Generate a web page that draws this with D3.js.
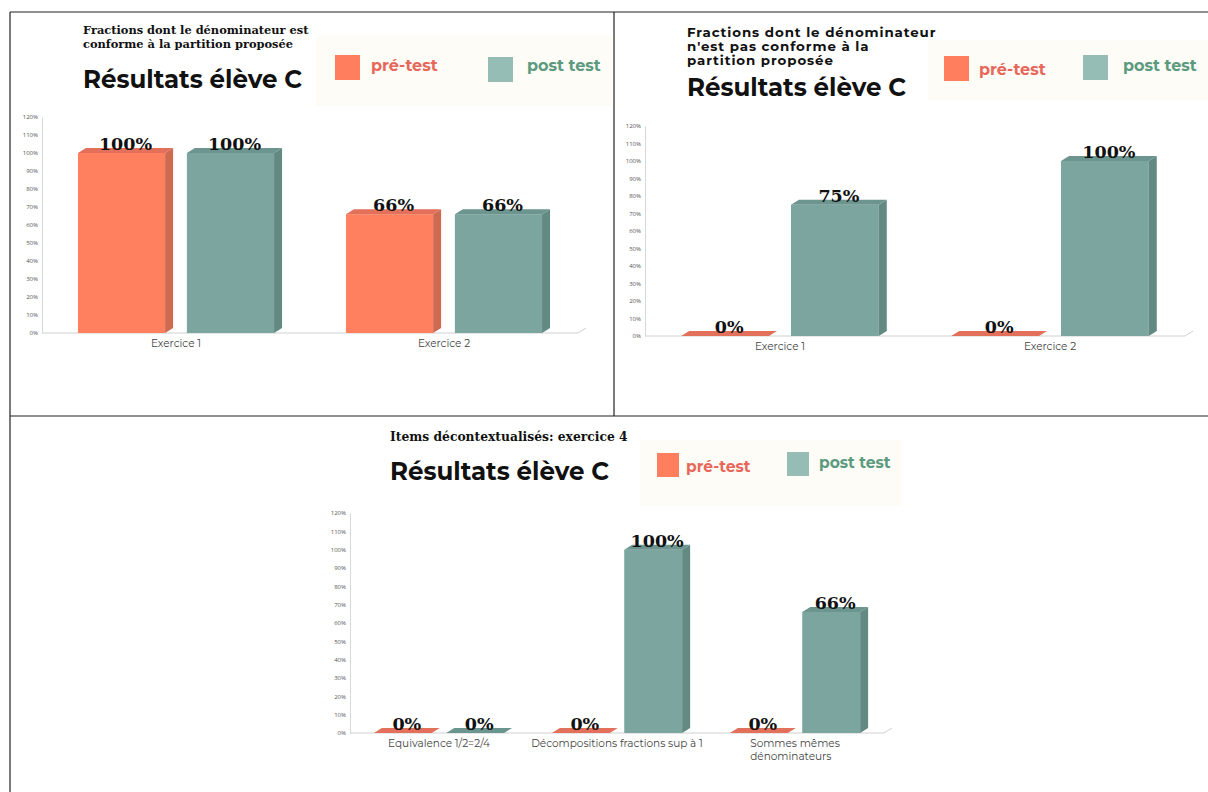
<!DOCTYPE html>
<html>
<head>
<meta charset="utf-8">
<script src="https://cdn.jsdelivr.net/npm/d3@7"></script>
<style>
body { margin: 0; background: #fff; }
svg { display: block; }
</style>
</head>
<body>
<svg id="page" width="1208" height="792"></svg>
<script>
var seriesNames = ["pré-test", "post test"];
var yTicks = [0, 10, 20, 30, 40, 50, 60, 70, 80, 90, 100, 110, 120];

var cats1 = ["Exercice 1", "Exercice 2"];
var pre1 = [100, 66];
var post1 = [100, 66];

var cats2 = ["Exercice 1", "Exercice 2"];
var pre2 = [0, 0];
var post2 = [75, 100];

var cats3 = ["Equivalence 1/2=2/4", "Décompositions fractions sup à 1", "Sommes mêmes\ndénominateurs"];
var pre3 = [0, 0, 0];
var post3 = [0, 100, 66];

var title = "Résultats élève C";
var sub1 = ["Fractions dont le dénominateur est", "conforme à la partition proposée"];
var sub2 = ["Fractions dont le dénominateur", "n'est pas conforme à la", "partition proposée"];
var sub3 = ["Items décontextualisés: exercice 4"];

var frontCol = ["#ff805f", "#7ba59e"];
var topCol = ["#e2705a", "#6b958e"];
var sideCol = ["#cf6a52", "#628a83"];
var legendSq = ["#ff7e5d", "#95bdb6"];
var legendTxt = ["#e8675b", "#5b9a7e"];

var sansFont = "Montserrat, 'Open Sans', sans-serif";
var serifFont = "'DejaVu Serif', serif";

var svg = d3.select("#page");
var dx = 8, dy = 5;

// table frame
var frame = [[10, 12, 1208, 12], [10, 12, 10, 792], [614, 12, 614, 416], [10, 416, 1208, 416]];
svg.selectAll("line.frame").data(frame).enter().append("line")
  .attr("class", "frame")
  .attr("x1", function(d){ return d[0]; })
  .attr("y1", function(d){ return d[1]; })
  .attr("x2", function(d){ return d[2]; })
  .attr("y2", function(d){ return d[3]; })
  .attr("stroke", "#222")
  .attr("stroke-width", 1.2);

function drawHeader(p){
  var g = svg.append("g");
  g.selectAll("text.sub").data(p.sub).enter().append("text")
    .attr("class", "sub")
    .attr("x", p.tx)
    .attr("y", function(d, i){ return p.subY + i * p.subStep; })
    .style("font-family", p.subFont)
    .style("font-weight", 700)
    .style("font-size", p.subSize + "px")
    .style("letter-spacing", p.subSpacing + "px")
    .attr("fill", "#111")
    .text(function(d){ return d; });

  g.append("text")
    .attr("x", p.tx)
    .attr("y", p.titleY)
    .style("font-family", sansFont)
    .style("font-weight", 700)
    .style("font-size", "24.5px")
    .attr("fill", "#111")
    .text(title);

  g.append("rect")
    .attr("x", p.bg[0]).attr("y", p.bg[1])
    .attr("width", p.bg[2]).attr("height", p.bg[3])
    .attr("fill", "#fdfcf6");

  var items = g.selectAll("g.leg").data(seriesNames).enter().append("g").attr("class", "leg");
  items.append("rect")
    .attr("x", function(d, i){ return p.sq[i][0]; })
    .attr("y", function(d, i){ return p.sq[i][1]; })
    .attr("width", p.sqW)
    .attr("height", p.sqH)
    .attr("fill", function(d, i){ return legendSq[i]; });
  items.append("text")
    .attr("x", function(d, i){ return p.lt[i][0]; })
    .attr("y", function(d, i){ return p.lt[i][1]; })
    .style("font-family", sansFont)
    .style("font-weight", 700)
    .style("font-size", p.legSize + "px")
    .attr("fill", function(d, i){ return legendTxt[i]; })
    .text(function(d){ return d; });
}

function drawChart(c){
  var g = svg.append("g");
  var y = d3.scaleLinear().domain([0, 120]).range([c.y0, c.yTop]);
  var x = d3.scaleBand().domain(c.cats).range([c.x0, c.x1]);
  var xs = d3.scaleBand().domain(seriesNames).range([0, x.bandwidth()])
    .paddingInner(0.2).paddingOuter(0.33);

  var yAxis = d3.axisLeft(y)
    .tickValues(yTicks)
    .tickSize(0)
    .tickPadding(4)
    .tickFormat(function(d){ return d + "%"; });

  var gy = g.append("g")
    .attr("transform", "translate(" + c.x0 + ",0)")
    .call(yAxis);
  gy.select(".domain").attr("stroke", "#d8d8d8");
  gy.selectAll("text")
    .style("font-family", "'Open Sans', sans-serif")
    .style("font-size", "6px")
    .attr("fill", "#555");

  // floor line with a bit of depth at the end
  g.append("path")
    .attr("d", "M" + c.x0 + "," + c.y0 + "H" + c.x1 + "l" + dx + "," + (-dy))
    .attr("fill", "none")
    .attr("stroke", "#d0d0d0");

  var xAxis = d3.axisBottom(x).tickSize(0).tickPadding(7);
  var gx = g.append("g")
    .attr("transform", "translate(0," + c.y0 + ")")
    .call(xAxis);
  gx.select(".domain").remove();
  gx.selectAll("text")
    .style("font-family", sansFont)
    .style("font-size", "10.5px")
    .attr("fill", "#444")
    .each(function(d){
      var lines = d.split("\n");
      if(lines.length < 2) return;
      var t = d3.select(this).text(null).attr("text-anchor", "start");
      lines.forEach(function(l, i){
        t.append("tspan").attr("dy", i == 0 ? "0.71em" : "1.2em").text(l);
      });
      t.attr("dy", null);
      // wrapped label: left aligned block centred under the band
      var maxW = 0;
      t.selectAll("tspan").each(function(){ maxW = Math.max(maxW, this.getComputedTextLength()); });
      t.selectAll("tspan").attr("x", -maxW / 2);
    });

  var rows = [];
  c.cats.forEach(function(cat, i){
    rows.push({cat: cat, s: 0, v: c.pre[i]});
    rows.push({cat: cat, s: 1, v: c.post[i]});
  });

  var bars = g.selectAll("g.bar").data(rows).enter().append("g").attr("class", "bar");
  var w = xs.bandwidth();
  function bx(d){ return x(d.cat) + xs(seriesNames[d.s]); }

  bars.append("rect")
    .attr("x", bx)
    .attr("y", function(d){ return y(d.v); })
    .attr("width", w)
    .attr("height", function(d){ return c.y0 - y(d.v); })
    .attr("fill", function(d){ return frontCol[d.s]; });

  bars.append("path")
    .attr("d", function(d){
      var x0 = bx(d), t = y(d.v);
      return "M" + x0 + "," + t + "l" + dx + "," + (-dy) + "h" + w + "l" + (-dx) + "," + dy + "Z";
    })
    .attr("fill", function(d){ return topCol[d.s]; });

  bars.append("path")
    .attr("d", function(d){
      var x1 = bx(d) + w, t = y(d.v);
      return "M" + x1 + "," + t + "l" + dx + "," + (-dy) + "V" + (c.y0 - dy) + "L" + x1 + "," + c.y0 + "Z";
    })
    .attr("fill", function(d){ return sideCol[d.s]; });

  bars.append("text")
    .attr("x", function(d){ return bx(d) + w / 2 + dx / 2; })
    .attr("y", function(d){ return y(d.v) - dy + 2; })
    .attr("text-anchor", "middle")
    .style("font-family", serifFont)
    .style("font-weight", 700)
    .style("font-size", "17.5px")
    .attr("fill", "#111")
    .text(function(d){ return d.v + "%"; });
}

drawHeader({sub: sub1, tx: 83, subY: 34, subStep: 14, subFont: serifFont, subSize: 11.4, subSpacing: 0,
  titleY: 88, bg: [316, 35, 296, 71], sq: [[335, 55], [488, 57]], sqW: 25, sqH: 25,
  lt: [[371, 71], [527, 71]], legSize: 16});
drawHeader({sub: sub2, tx: 687, subY: 37, subStep: 14, subFont: sansFont, subSize: 13.4, subSpacing: 0.9,
  titleY: 96, bg: [928, 40, 280, 60], sq: [[944, 56], [1083, 55]], sqW: 25, sqH: 25,
  lt: [[979, 75], [1123, 71]], legSize: 16});
drawHeader({sub: sub3, tx: 390, subY: 441, subStep: 14, subFont: serifFont, subSize: 12.3, subSpacing: 0,
  titleY: 480, bg: [640, 440, 262, 66], sq: [[657, 453], [787, 452]], sqW: 22, sqH: 24,
  lt: [[686, 472], [819, 468]], legSize: 15.5});

drawChart({cats: cats1, pre: pre1, post: post1, x0: 42, x1: 578, y0: 333, yTop: 117});
drawChart({cats: cats2, pre: pre2, post: post2, x0: 645, x1: 1185, y0: 336, yTop: 126});
drawChart({cats: cats3, pre: pre3, post: post3, x0: 350, x1: 884, y0: 733, yTop: 513});
</script>
</body>
</html>
